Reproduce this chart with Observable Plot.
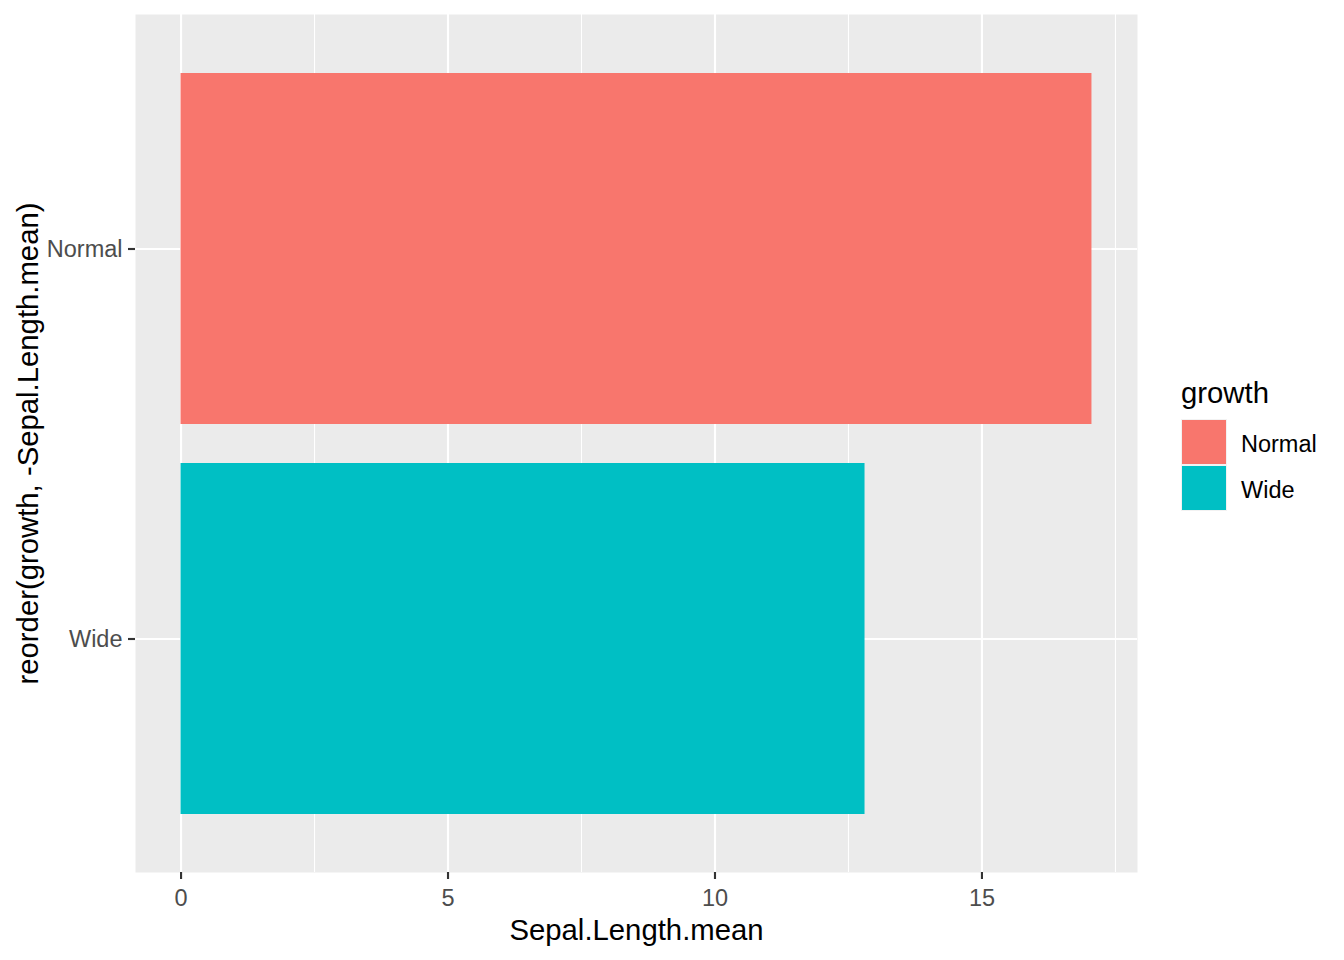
<!DOCTYPE html>
<html><head><meta charset="utf-8">
<script src="https://cdn.jsdelivr.net/npm/d3@7"></script>
<script src="https://cdn.jsdelivr.net/npm/@observablehq/plot@0.6"></script>
<style>
body{margin:0;background:#fff;font-family:"Liberation Sans",Arial,sans-serif;}
#wrap{position:relative;width:1344px;height:960px;overflow:hidden;}
#wrap svg{display:block;}
g[aria-label="x-axis label"] text, g[aria-label="y-axis label"] text{font-size:29.3px;fill:#000;}
#legend{position:absolute;left:1170px;top:370px;}
</style></head><body><div id="wrap"></div>
<script>
const categories = ["Normal", "Wide"];
const values = [17.06, 12.81];
const colors = ["#F8766D", "#00BFC4"];
const xTicks = [0, 5, 10, 15];
const xMinor = [2.5, 7.5, 12.5, 17.5];
const xTitle = "Sepal.Length.mean";
const yTitle = "reorder(growth, -Sepal.Length.mean)";
const legendTitle = "growth";

const data = categories.map((c, i) => ({growth: c, mean: values[i]}));
const xMax = d3.max(values);
const pad = xMax * 0.05;

const plot = Plot.plot({
  width: 1344, height: 960,
  marginLeft: 135, marginRight: 207, marginTop: 14, marginBottom: 88,
  style: {fontFamily: "Liberation Sans, Arial, sans-serif", background: "white", color: "#4D4D4D"},
  x: {domain: [-pad, xMax + pad]},
  y: {domain: categories, paddingInner: 0.1, paddingOuter: 0.15},
  color: {domain: categories, range: colors},
  marks: [
    Plot.frame({fill: "#EBEBEB", stroke: "none"}),
    Plot.ruleX(xMinor, {stroke: "white", strokeWidth: 1.07}),
    Plot.ruleX(xTicks, {stroke: "white", strokeWidth: 2.13}),
    Plot.gridY({stroke: "white", strokeOpacity: 1, strokeWidth: 2.13}),
    Plot.barX(data, {x: "mean", y: "growth", fill: "growth"}),
    Plot.axisX({ticks: xTicks, tickSize: 7, tickPadding: 10, stroke: "#333333", strokeWidth: 2.13,
      fill: "#4D4D4D", fontSize: 23.5, label: xTitle, labelAnchor: "center", labelArrow: "none", labelOffset: 67}),
    Plot.axisY({tickSize: 7, tickPadding: 6, stroke: "#333333", strokeWidth: 2.13,
      fill: "#4D4D4D", fontSize: 23.5, label: yTitle, labelAnchor: "center", labelArrow: "none", labelOffset: 118})
  ]
});
const wrap = document.getElementById("wrap");
wrap.appendChild(plot);

// legend
const lg = d3.select(wrap).append("svg").attr("id", "legend").attr("width", 174).attr("height", 150)
  .style("font-family", "Liberation Sans, Arial, sans-serif");
lg.append("text").attr("x", 11).attr("y", 33).attr("font-size", 29.3).attr("fill", "#000").text(legendTitle);
categories.forEach((c, i) => {
  const y0 = 49 + i * 46;
  lg.append("rect").attr("x", 11).attr("y", y0).attr("width", 46).attr("height", 46).attr("fill", "#F2F2F2");
  lg.append("rect").attr("x", 12).attr("y", y0 + 1).attr("width", 44).attr("height", 44).attr("fill", colors[i]);
  lg.append("text").attr("x", 71).attr("y", y0 + 25).attr("dy", "0.36em").attr("font-size", 23.5).attr("fill", "#000").text(c);
});
</script></body></html>
